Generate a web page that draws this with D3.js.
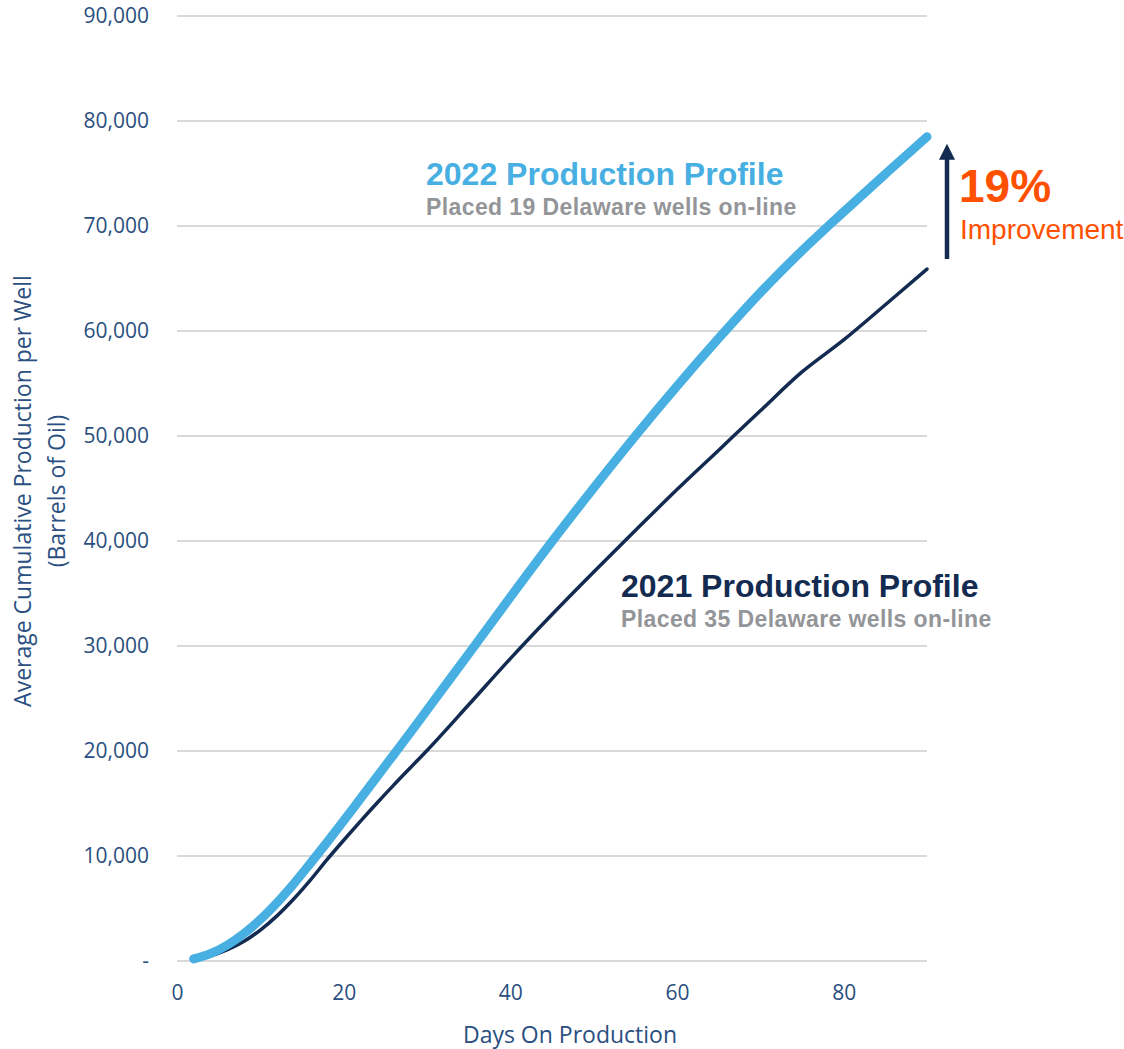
<!DOCTYPE html>
<html>
<head>
<meta charset="utf-8">
<script src="https://cdn.jsdelivr.net/npm/d3@7/dist/d3.min.js"></script>
<style>
  html, body { margin: 0; padding: 0; background: #ffffff; }
  svg { display: block; }
</style>
</head>
<body>
<svg id="chart" width="1124" height="1049"></svg>
<script>
// Days on production for each profile
const days2022 = [2, 4, 6, 8, 10, 12, 14, 16, 18, 20, 22, 24, 26, 28, 30, 32, 35, 40, 45, 50, 55, 60, 65, 70, 75, 80, 85, 90];
// Average cumulative production per well, 2022 wells (barrels of oil)
const cum2022 = [200, 700, 1500, 2600, 3950, 5550, 7350, 9300, 11300, 13350, 15450, 17550, 19650, 21750, 23900, 26050, 29250, 34650, 39950, 45050, 50000, 54750, 59300, 63650, 67650, 71350, 74950, 78500];

const days2021 = [2, 4, 6, 8, 10, 12, 14, 16, 18, 20, 22, 24, 26, 28, 30, 35, 40, 45, 50, 55, 60, 65, 70, 75, 80, 85, 90];
// Average cumulative production per well, 2021 wells (barrels of oil)
const cum2021 = [150, 480, 1050, 1850, 2950, 4300, 5900, 7700, 9650, 11500, 13300, 15050, 16750, 18400, 20050, 24400, 28800, 33000, 37050, 41000, 44900, 48650, 52400, 56100, 59150, 62500, 65900];

// Axis ticks
const yTickValues = [0, 10000, 20000, 30000, 40000, 50000, 60000, 70000, 80000, 90000];
const xTickValues = [0, 20, 40, 60, 80];

// Annotation text
const label2022 = "2022 Production Profile";
const sub2022 = "Placed 19 Delaware wells on-line";
const label2021 = "2021 Production Profile";
const sub2021 = "Placed 35 Delaware wells on-line";
const improvementPct = "19%";
const improvementText = "Improvement";

const COLORS = {
  light: "#47afe1",
  navy: "#132b50",
  axisText: "#2a4f80",
  grid: "#d9d9d9",
  gray: "#939598",
  orange: "#ff5000"
};

const svg = d3.select("#chart");

const x = d3.scaleLinear().domain([0, 90]).range([177, 927]);
const y = d3.scaleLinear().domain([0, 90000]).range([961, 16]);

// Horizontal gridlines
svg.append("g")
  .selectAll("line")
  .data(yTickValues)
  .join("line")
  .attr("x1", x(0))
  .attr("x2", x(90))
  .attr("y1", d => y(d))
  .attr("y2", d => y(d))
  .attr("stroke", COLORS.grid)
  .attr("stroke-width", 2);

// Y axis labels
const yAxis = d3.axisLeft(y)
  .tickValues(yTickValues)
  .tickSize(0)
  .tickPadding(28)
  .tickFormat(d => d === 0 ? "-" : d3.format(",")(d));

const gy = svg.append("g")
  .attr("transform", `translate(${x(0)},0)`)
  .call(yAxis);
gy.select(".domain").remove();
gy.selectAll("text")
  .attr("fill", COLORS.axisText)
  .style("font-family", "'Open Sans', sans-serif")
  .style("font-size", "21px");

// X axis labels
const xAxis = d3.axisBottom(x)
  .tickValues(xTickValues)
  .tickSize(0)
  .tickPadding(24);

const gx = svg.append("g")
  .attr("transform", `translate(0,${y(0)})`)
  .call(xAxis);
gx.select(".domain").remove();
gx.selectAll("text")
  .attr("fill", COLORS.axisText)
  .style("font-family", "'Open Sans', sans-serif")
  .style("font-size", "21px");

// Axis titles
svg.append("text")
  .attr("x", 570)
  .attr("y", 1043)
  .attr("text-anchor", "middle")
  .attr("fill", COLORS.axisText)
  .style("font-family", "'Open Sans', sans-serif")
  .style("font-size", "23px")
  .text("Days On Production");

const yTitle = svg.append("text")
  .attr("transform", "translate(31,491) rotate(-90)")
  .attr("text-anchor", "middle")
  .attr("fill", COLORS.axisText)
  .style("font-family", "'Open Sans', sans-serif")
  .style("font-size", "23px");
yTitle.append("tspan").attr("x", 0).attr("y", 0).text("Average Cumulative Production per Well");
yTitle.append("tspan").attr("x", 0).attr("y", 34).text("(Barrels of Oil)");

// Production curves
const line = d3.line()
  .x(d => x(d[0]))
  .y(d => y(d[1]))
  .curve(d3.curveMonotoneX);

svg.append("path")
  .datum(d3.zip(days2021, cum2021))
  .attr("d", line)
  .attr("fill", "none")
  .attr("stroke", COLORS.navy)
  .attr("stroke-width", 3.5)
  .attr("stroke-linecap", "round");

svg.append("path")
  .datum(d3.zip(days2022, cum2022))
  .attr("d", line)
  .attr("fill", "none")
  .attr("stroke", COLORS.light)
  .attr("stroke-width", 9)
  .attr("stroke-linecap", "round")
  .attr("stroke-linejoin", "round");

// Series labels
const bold = "'Liberation Sans', Arial, sans-serif";

svg.append("text")
  .attr("x", 426).attr("y", 185)
  .attr("fill", COLORS.light)
  .style("font-family", bold).style("font-weight", "bold").style("font-size", "32px")
  .text(label2022);
svg.append("text")
  .attr("x", 426).attr("y", 215)
  .attr("fill", COLORS.gray)
  .style("font-family", bold).style("font-weight", "bold").style("font-size", "23px")
  .style("letter-spacing", "0.4px")
  .text(sub2022);

svg.append("text")
  .attr("x", 621).attr("y", 597)
  .attr("fill", COLORS.navy)
  .style("font-family", bold).style("font-weight", "bold").style("font-size", "32px")
  .text(label2021);
svg.append("text")
  .attr("x", 621).attr("y", 627)
  .attr("fill", COLORS.gray)
  .style("font-family", bold).style("font-weight", "bold").style("font-size", "23px")
  .style("letter-spacing", "0.4px")
  .text(sub2021);

// Improvement arrow between the two end values
const ax = x(90) + 20;
const arrowBottom = y(cum2021[cum2021.length - 1]) - 10;
const arrowTip = y(cum2022[cum2022.length - 1]) + 7;
svg.append("line")
  .attr("x1", ax).attr("x2", ax)
  .attr("y1", arrowBottom).attr("y2", arrowTip + 14)
  .attr("stroke", COLORS.navy)
  .attr("stroke-width", 4.5);
svg.append("path")
  .attr("d", `M${ax - 8},${arrowTip + 16} L${ax + 8},${arrowTip + 16} L${ax},${arrowTip} Z`)
  .attr("fill", COLORS.navy);

svg.append("text")
  .attr("x", 959).attr("y", 202)
  .attr("fill", COLORS.orange)
  .style("font-family", bold).style("font-weight", "bold").style("font-size", "46px")
  .text(improvementPct);
svg.append("text")
  .attr("x", 960).attr("y", 239)
  .attr("fill", COLORS.orange)
  .style("font-family", bold).style("font-size", "28px")
  .text(improvementText);
</script>
</body>
</html>
